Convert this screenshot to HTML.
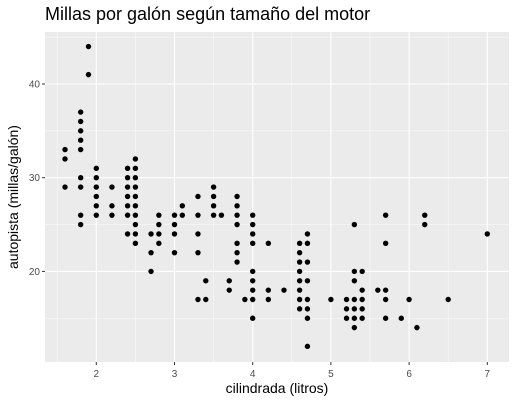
<!DOCTYPE html>
<html><head><meta charset="utf-8"><style>
body{margin:0;background:#fff;}
svg text{font-family:"Liberation Sans",sans-serif;}
</style></head><body>
<svg id="chart" width="516" height="403" xmlns="http://www.w3.org/2000/svg">
<rect width="516" height="403" fill="#fff"/>
<text x="45" y="20" font-size="18" fill="#000">Millas por galón según tamaño del motor</text>
<rect x="45" y="32" width="464" height="330" fill="#ebebeb"/>
<g id="grid"></g><g id="pts"></g><g id="axes"></g>
<text x="277" y="393" font-size="14" text-anchor="middle">cilindrada (litros)</text>
<text transform="translate(18,197) rotate(-90)" font-size="14" text-anchor="middle">autopista (millas/galón)</text>
</svg>
<script>
const displ=[1.6,1.6,1.6,1.8,1.8,1.8,1.8,1.8,1.8,1.8,1.8,1.8,1.9,1.9,2.0,2.0,2.0,2.0,2.0,2.0,2.2,2.2,2.2,2.4,2.4,2.4,2.4,2.4,2.4,2.4,2.5,2.5,2.5,2.5,2.5,2.5,2.5,2.5,2.5,2.5,2.7,2.7,2.7,2.8,2.8,2.8,2.8,3.0,3.0,3.0,3.0,3.1,3.1,3.3,3.3,3.3,3.3,3.3,3.4,3.4,3.5,3.5,3.5,3.5,3.6,3.7,3.7,3.8,3.8,3.8,3.8,3.8,3.8,3.8,3.9,4.0,4.0,4.0,4.0,4.0,4.0,4.0,4.0,4.0,4.2,4.2,4.2,4.4,4.6,4.6,4.6,4.6,4.6,4.6,4.6,4.6,4.7,4.7,4.7,4.7,4.7,4.7,4.7,4.7,5.0,5.2,5.2,5.2,5.3,5.3,5.3,5.3,5.3,5.3,5.3,5.4,5.4,5.4,5.4,5.4,5.6,5.7,5.7,5.7,5.7,5.7,5.9,6.0,6.1,6.2,6.2,6.5,7.0];
const hwy=[33,32,29,37,36,35,34,33,30,29,26,25,44,41,31,30,29,28,27,26,29,27,26,31,30,29,28,27,26,24,32,31,30,29,28,27,26,25,24,23,24,22,20,26,25,24,23,26,25,24,22,27,26,28,26,24,22,17,19,17,29,28,27,26,26,19,18,28,27,26,25,23,22,21,17,26,25,24,23,20,19,18,17,15,23,18,17,18,23,22,21,20,19,18,17,16,24,23,21,19,17,16,15,12,17,17,16,15,25,20,19,17,16,15,14,20,18,17,16,15,18,26,23,18,17,15,15,17,14,26,25,17,24];
const xTicks=[2,3,4,5,6,7];
const yTicks=[20,30,40];
const ns="http://www.w3.org/2000/svg";
const X=v=>96.3+(v-2)*78.2;
const Y=v=>84-(v-40)*9.37;
const grid=document.getElementById('grid'),pts=document.getElementById('pts'),axes=document.getElementById('axes');
function ln(p,x1,y1,x2,y2,c,w){const l=document.createElementNS(ns,'line');l.setAttribute('x1',x1);l.setAttribute('y1',y1);l.setAttribute('x2',x2);l.setAttribute('y2',y2);l.setAttribute('stroke',c);l.setAttribute('stroke-width',w);p.appendChild(l);return l;}
[1.5,2.5,3.5,4.5,5.5,6.5].forEach(v=>{const l=ln(grid,X(v),32,X(v),362,'#fafafa',0.6);

});
[15,25,35,45].forEach(v=>{const l=ln(grid,45,Y(v),509,Y(v),'#fafafa',0.6);

});
xTicks.forEach(v=>{const l=ln(grid,X(v),32,X(v),362,'#fff',1.1);


ln(axes,X(v),362,X(v),365,'#333',1);
const t=document.createElementNS(ns,'text');t.setAttribute('x',X(v));t.setAttribute('y',377);t.setAttribute('font-size','10');t.setAttribute('fill','#4d4d4d');t.setAttribute('text-anchor','middle');t.textContent=v;


axes.appendChild(t);});
yTicks.forEach(v=>{const l=ln(grid,45,Y(v),509,Y(v),'#fff',1.1);


ln(axes,42,Y(v),45,Y(v),'#333',1);
const t=document.createElementNS(ns,'text');t.setAttribute('x',40);t.setAttribute('y',Y(v)+3.5);t.setAttribute('font-size','10');t.setAttribute('fill','#4d4d4d');t.setAttribute('text-anchor','end');t.textContent=v;


axes.appendChild(t);});
displ.forEach((d,i)=>{const c=document.createElementNS(ns,'circle');c.setAttribute('cx',X(d));c.setAttribute('cy',Y(hwy[i]));c.setAttribute('r',2.7);c.setAttribute('fill','#000');


pts.appendChild(c);});
</script>
</body></html>
